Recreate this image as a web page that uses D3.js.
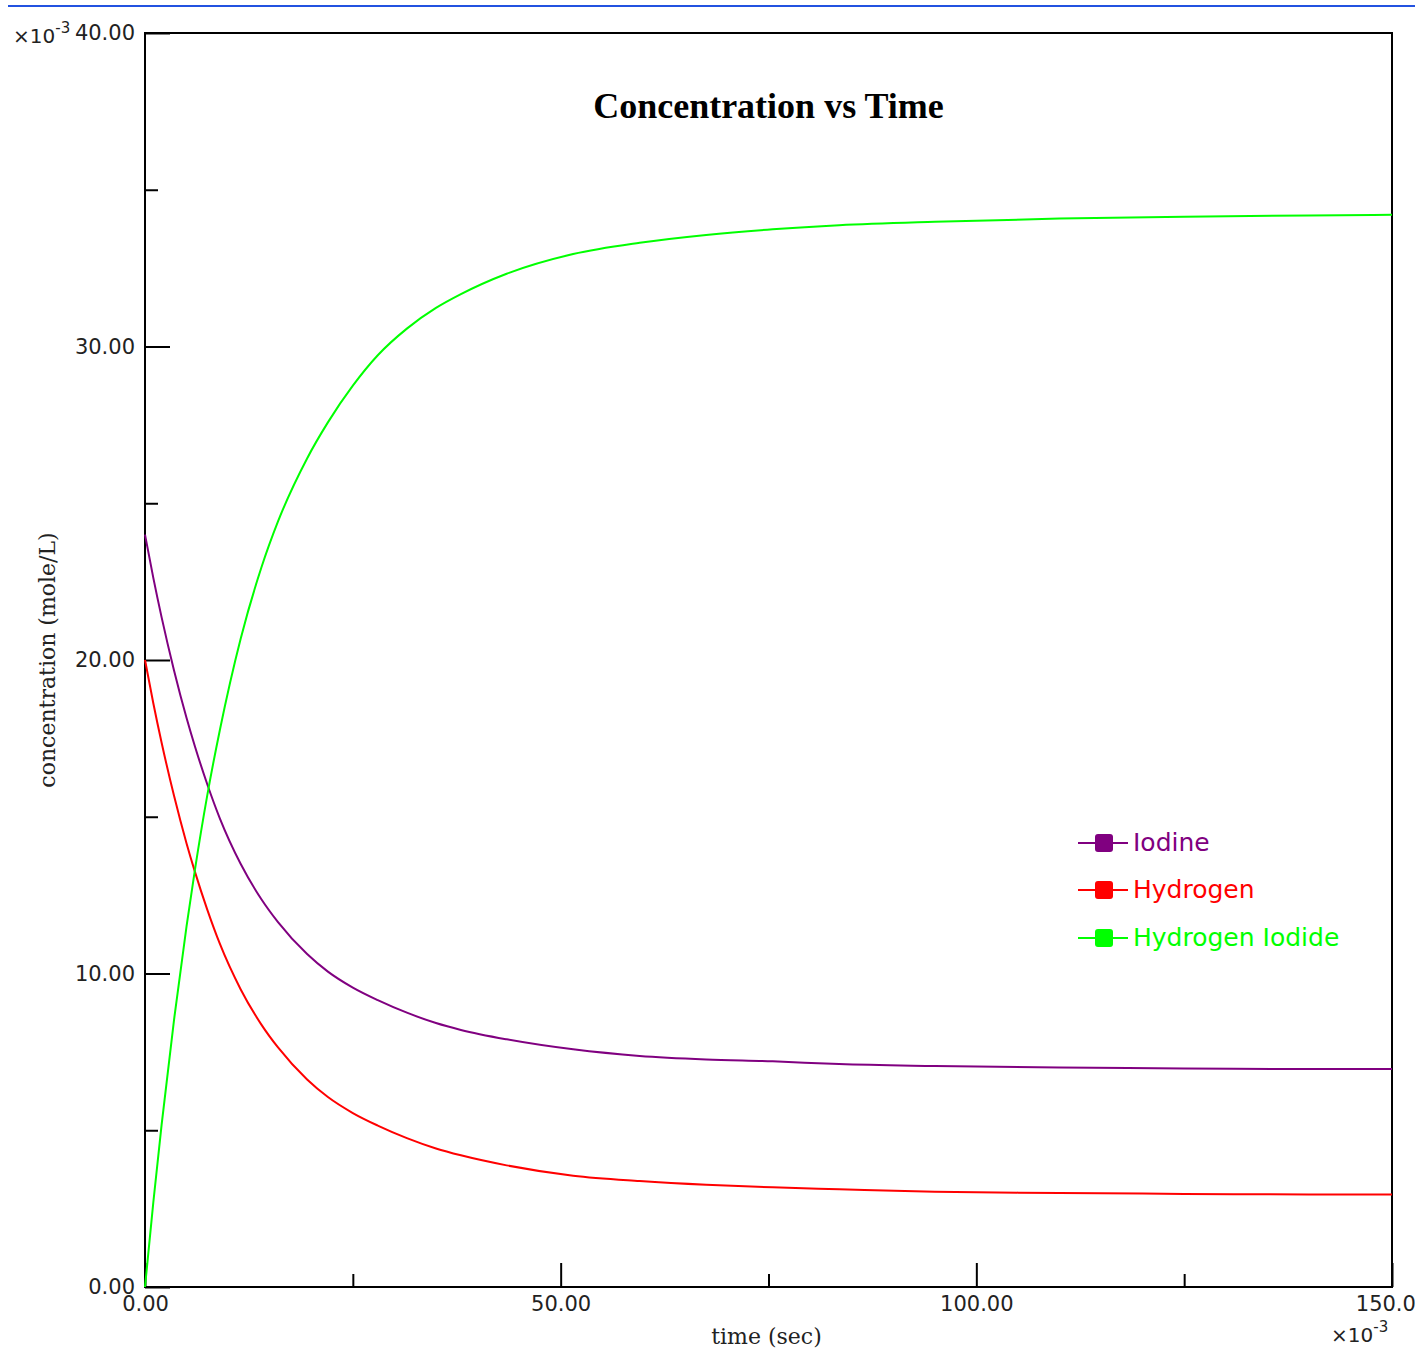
<!DOCTYPE html>
<html lang="en">
<head>
<meta charset="UTF-8">
<script src="https://d3js.org/d3.v7.min.js"></script>
<style>
  body { margin: 0; background: #fff; }
  #chart { position: absolute; left: 0; top: 0; }
</style>
</head>
<body>
<div id="chart"></div>
<script>
// time (x10^-3 sec) and concentrations (x10^-3 mole/L)
const timeVals = [0, 1, 2, 3.5, 5, 6, 7.5, 9, 11.5, 14, 16, 19.5, 22, 25, 28, 31.5, 35, 38, 43.5, 51.5, 59.5, 67.5, 75.5, 83.5, 95, 110, 125, 140, 150];
const iodine = [24.0, 22.62, 21.36, 19.66, 18.15, 17.25, 16.03, 14.95, 13.5, 12.37, 11.64, 10.62, 10.06, 9.55, 9.15, 8.75, 8.42, 8.2, 7.9, 7.58, 7.37, 7.26, 7.2, 7.11, 7.05, 7.0, 6.97, 6.95, 6.95];
const hydrogen = [20.0, 18.62, 17.36, 15.66, 14.15, 13.25, 12.03, 10.95, 9.5, 8.37, 7.64, 6.62, 6.06, 5.55, 5.15, 4.75, 4.42, 4.2, 3.88, 3.55, 3.38, 3.26, 3.18, 3.12, 3.04, 3.0, 2.97, 2.95, 2.95];
const hydrogenIodide = [0.0, 2.7, 5.18, 8.54, 11.51, 13.3, 15.7, 17.76, 20.67, 22.95, 24.42, 26.43, 27.58, 28.75, 29.72, 30.57, 31.23, 31.67, 32.32, 32.95, 33.31, 33.56, 33.74, 33.87, 33.98, 34.08, 34.14, 34.18, 34.2];

const seriesNames = ["Iodine", "Hydrogen", "Hydrogen Iodide"];
const seriesColors = ["#800080", "#ff0000", "#00ff00"];
const seriesValues = [iodine, hydrogen, hydrogenIodide];

const yMajorTicks = [0, 10, 20, 30, 40];
const yMinorTicks = [5, 15, 25, 35];
const xMajorTicks = [0, 50, 100, 150];
const xMinorTicks = [25, 75, 125];

const titleText = "Concentration vs Time";
const xLabel = "time (sec)";
const yLabel = "concentration (mole/L)";

const width = 1415, height = 1359;
const plotLeft = 145, plotRight = 1392, plotTop = 33, plotBottom = 1287;

const svg = d3.select("#chart").append("svg")
  .attr("width", width)
  .attr("height", height)
  .attr("viewBox", [0, 0, width, height]);

svg.append("rect").attr("width", width).attr("height", height).attr("fill", "#fff");

// blue rule across the top of the page
svg.append("line")
  .attr("x1", 8).attr("x2", width)
  .attr("y1", 6).attr("y2", 6)
  .attr("stroke", "#2352e0").attr("stroke-width", 2);

const x = d3.scaleLinear().domain([0, 150]).range([plotLeft, plotRight]);
const y = d3.scaleLinear().domain([0, 40]).range([plotBottom, plotTop]);

const fmt = d3.format(".2f");

// y axis: major ticks with labels, minor ticks without
svg.append("g")
  .attr("transform", `translate(${plotLeft},0)`)
  .call(d3.axisLeft(y).tickValues(yMajorTicks).tickFormat(fmt).tickSize(-25).tickPadding(10))
  .call(g => g.select(".domain").remove())
  .call(g => g.selectAll(".tick line").attr("stroke", "#000").attr("stroke-width", 2))
  .call(g => g.selectAll(".tick text")
    .attr("font-family", "DejaVu Sans").attr("font-size", 21).attr("fill", "#222"));

svg.append("g")
  .attr("transform", `translate(${plotLeft},0)`)
  .call(d3.axisLeft(y).tickValues(yMinorTicks).tickFormat("").tickSize(-13))
  .call(g => g.select(".domain").remove())
  .call(g => g.selectAll(".tick line").attr("stroke", "#000").attr("stroke-width", 2));

// x axis
svg.append("g")
  .attr("transform", `translate(0,${plotBottom})`)
  .call(d3.axisBottom(x).tickValues(xMajorTicks).tickFormat(fmt).tickSize(-24).tickPadding(9))
  .call(g => g.select(".domain").remove())
  .call(g => g.selectAll(".tick line").attr("stroke", "#000").attr("stroke-width", 2))
  .call(g => g.selectAll(".tick text")
    .attr("font-family", "DejaVu Sans").attr("font-size", 21).attr("fill", "#222"));

svg.append("g")
  .attr("transform", `translate(0,${plotBottom})`)
  .call(d3.axisBottom(x).tickValues(xMinorTicks).tickFormat("").tickSize(-13))
  .call(g => g.select(".domain").remove())
  .call(g => g.selectAll(".tick line").attr("stroke", "#000").attr("stroke-width", 2));

// plot frame
svg.append("rect")
  .attr("x", plotLeft).attr("y", plotTop)
  .attr("width", plotRight - plotLeft).attr("height", plotBottom - plotTop)
  .attr("fill", "none").attr("stroke", "#000").attr("stroke-width", 2);

// data lines
const line = d3.line()
  .curve(d3.curveMonotoneX)
  .x((d, i) => x(timeVals[i]))
  .y(d => y(d));

seriesValues.forEach((vals, k) => {
  svg.append("path")
    .attr("fill", "none")
    .attr("stroke", seriesColors[k])
    .attr("stroke-width", 2)
    .attr("d", line(vals));
});

// title
svg.append("text")
  .attr("x", (plotLeft + plotRight) / 2)
  .attr("y", 118)
  .attr("text-anchor", "middle")
  .attr("font-family", "Liberation Serif")
  .attr("font-weight", "bold")
  .attr("font-size", 36)
  .attr("fill", "#000")
  .text(titleText);

// axis labels
svg.append("text")
  .attr("x", (plotLeft + plotRight) / 2 - 2)
  .attr("y", 1344)
  .attr("text-anchor", "middle")
  .attr("font-family", "DejaVu Serif")
  .attr("font-size", 22)
  .attr("fill", "#222")
  .text(xLabel);

svg.append("text")
  .attr("transform", `translate(55,660) rotate(-90)`)
  .attr("text-anchor", "middle")
  .attr("font-family", "DejaVu Serif")
  .attr("font-size", 22)
  .attr("fill", "#222")
  .text(yLabel);

// exponent markers
function expLabel(xPos, yPos) {
  const t = svg.append("text")
    .attr("x", xPos).attr("y", yPos)
    .attr("font-family", "DejaVu Sans")
    .attr("font-size", 20)
    .attr("fill", "#222");
  t.append("tspan").text("\u00d710");
  t.append("tspan").attr("dy", -10).attr("font-size", 15).text("-3");
}
expLabel(13, 43);
expLabel(1331, 1342);

// legend
const legend = svg.append("g").attr("transform", "translate(1078,0)");
const legendY = [843, 890, 938];
seriesNames.forEach((name, k) => {
  const g = legend.append("g").attr("transform", `translate(0,${legendY[k]})`);
  g.append("line")
    .attr("x1", 0).attr("x2", 50)
    .attr("stroke", seriesColors[k]).attr("stroke-width", 2);
  g.append("rect")
    .attr("x", 17).attr("y", -9)
    .attr("width", 18).attr("height", 18)
    .attr("rx", 3)
    .attr("fill", seriesColors[k]);
  g.append("text")
    .attr("x", 55).attr("y", 8)
    .attr("font-family", "DejaVu Sans")
    .attr("font-size", 25)
    .attr("fill", seriesColors[k])
    .text(name);
});
</script>
</body>
</html>
